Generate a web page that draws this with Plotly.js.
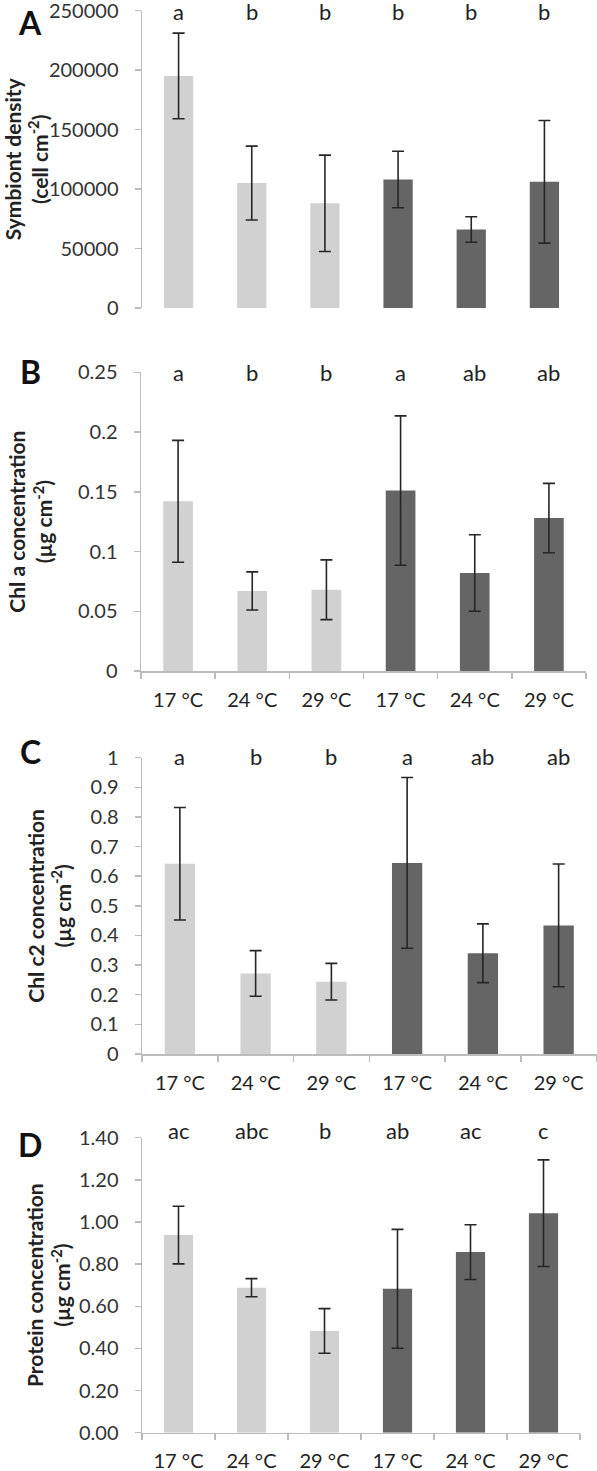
<!DOCTYPE html>
<html>
<head>
<meta charset="utf-8">
<script src="https://cdn.plot.ly/plotly-3.0.1.min.js"></script>
<style>html,body{margin:0;padding:0;background:#fff;}#chart{width:597px;height:1471px;}</style>
</head>
<body>
<div id="chart"></div>
<script>
// ---- data ----
var tickLabels = ['17 °C', '24 °C', '29 °C', '17 °C', '24 °C', '29 °C'];
var xPos = [0, 1, 2, 3, 4, 5];

var symbiont = [195000, 105000, 88000, 108000, 66000, 106000];
var symbiontErr = [36000, 31000, 40500, 23700, 10700, 51500];
var lettersA = ['a', 'b', 'b', 'b', 'b', 'b'];

var chlA = [0.142, 0.067, 0.068, 0.151, 0.082, 0.128];
var chlAErr = [0.051, 0.016, 0.025, 0.0625, 0.032, 0.029];
var lettersB = ['a', 'b', 'b', 'a', 'ab', 'ab'];

var chlC2 = [0.642, 0.272, 0.244, 0.645, 0.340, 0.434];
var chlC2Err = [0.19, 0.077, 0.062, 0.288, 0.099, 0.207];
var lettersC = ['a', 'b', 'b', 'a', 'ab', 'ab'];

var protein = [0.938, 0.688, 0.483, 0.683, 0.857, 1.042];
var proteinErr = [0.137, 0.043, 0.106, 0.282, 0.130, 0.253];
var lettersD = ['ac', 'abc', 'b', 'ab', 'ac', 'c'];

var panelLabels = ['A', 'B', 'C', 'D'];
var yTitles = [
  'Symbiont density<br>(cell cm<sup>-2</sup>)',
  'Chl a concentration<br>(µg cm<sup>-2</sup>)',
  'Chl c2 concentration<br>(µg cm<sup>-2</sup>)',
  'Protein concentration<br>(µg cm<sup>-2</sup>)'
];

// ---- style ----
var LIGHT = '#d1d1d1', DARK = '#656565';
var AXIS = '#bcbcbc';
var FONT = 'Lato, "Open Sans", sans-serif';
var barColors = xPos.map(function (i) { return i < 3 ? LIGHT : DARK; });

var panels = [
  {y: symbiont, err: symbiontErr, letters: lettersA, range: [0, 250000], dtick: 50000, fmt: 'd',
   xdom: [142/597, 581/597], ydom: [1 - 308/1471, 1 - 10.5/1471], showX: false, standoff: 8, letterShift: -1, labelY: 22},
  {y: chlA, err: chlAErr, letters: lettersB, range: [0, 0.25], dtick: 0.05, fmt: '',
   xdom: [141/597, 586/597], ydom: [1 - 671/1471, 1 - 372.3/1471], showX: true, standoff: 19, letterShift: 0, labelY: 372},
  {y: chlC2, err: chlC2Err, letters: lettersC, range: [0, 1], dtick: 0.1, fmt: '',
   xdom: [142/597, 596.5/597], ydom: [1 - 1054/1471, 1 - 757.7/1471], showX: true, standoff: 13, letterShift: 1, labelY: 751},
  {y: protein, err: proteinErr, letters: lettersD, range: [0, 1.4], dtick: 0.2, fmt: '.2f',
   xdom: [142/597, 580/597], ydom: [1 - 1432.7/1471, 1 - 1137.7/1471], showX: true, standoff: 2, letterShift: 7, labelY: 1144}
];

var data = [];
var layout = {
  width: 597, height: 1471,
  margin: {l: 0, r: 0, t: 0, b: 0},
  paper_bgcolor: '#fff', plot_bgcolor: '#fff',
  showlegend: false,
  bargap: 0.6,
  font: {family: FONT, color: '#333'},
  annotations: []
};

panels.forEach(function (p, k) {
  var n = k === 0 ? '' : String(k + 1);
  data.push({
    type: 'bar',
    x: xPos, y: p.y,
    xaxis: 'x' + n, yaxis: 'y' + n,
    marker: {color: barColors, line: {width: 0}},
    error_y: {type: 'data', array: p.err, visible: true, color: '#262626', thickness: 1.6, width: 6},
    hoverinfo: 'none'
  });
  layout['xaxis' + n] = {
    domain: p.xdom, anchor: 'y' + n,
    range: [-0.5, 5.5], fixedrange: true,
    showgrid: false, zeroline: false,
    showline: p.showX, linecolor: AXIS, linewidth: 1.5,
    tickmode: 'array', tickvals: xPos, ticktext: tickLabels,
    showticklabels: p.showX, ticks: '',
    ticklabelstandoff: 10,
    tickfont: {family: FONT, size: 20, color: '#222'},
    minor: p.showX ? {tickmode: 'linear', tick0: -0.5, dtick: 1, ticks: 'outside', ticklen: 6, tickwidth: 1.5, tickcolor: AXIS, showgrid: false} : {}
  };
  layout['yaxis' + n] = {
    domain: p.ydom, anchor: 'x' + n,
    range: p.range, fixedrange: true,
    tickmode: 'linear', tick0: 0, dtick: p.dtick, tickformat: p.fmt,
    showgrid: false, zeroline: false,
    showline: true, linecolor: AXIS, linewidth: 1.5,
    ticks: 'outside', ticklen: 6, tickwidth: 1.5, tickcolor: AXIS,
    ticklabelstandoff: 12, ticklabeloverflow: 'allow',
    tickfont: {family: FONT, size: 20, color: '#333'},
    title: {text: yTitles[k], standoff: p.standoff, font: {family: FONT, size: 21, color: '#222', weight: 'bold'}}
  };
  p.letters.forEach(function (t, i) {
    layout.annotations.push({
      xref: 'x' + n, yref: 'y' + n + ' domain', x: xPos[i], y: 1, yanchor: 'middle',
      yshift: p.letterShift, text: t, showarrow: false,
      font: {family: FONT, size: 22, color: '#222'}
    });
  });
  layout.annotations.push({
    xref: 'paper', yref: 'paper', x: 30/597, y: 1 - p.labelY/1471,
    xanchor: 'center', yanchor: 'middle', text: panelLabels[k], showarrow: false,
    font: {family: FONT, size: 32, color: '#111', weight: 'bold'}
  });
});

Plotly.newPlot('chart', data, layout, {staticPlot: true, displayModeBar: false});
</script>
</body>
</html>
